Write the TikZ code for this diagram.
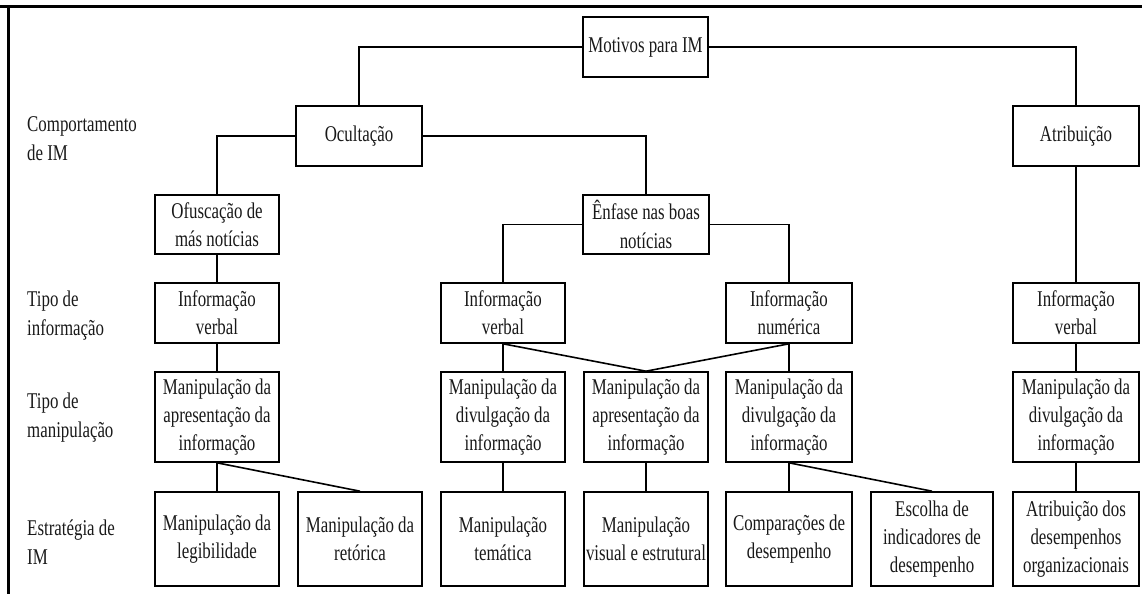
\documentclass[tikz,border=0pt]{standalone}
\usepackage{fontspec}
\setmainfont{Liberation Serif}[FakeStretch=0.75]
\begin{document}
\begin{tikzpicture}[x=1pt,y=-1pt,
  bx/.style={draw=black, line width=1.6pt, inner sep=0pt, align=center,
    font=\fontsize{22.5}{28.3}\selectfont, text=black!90},
  r1/.style={bx, minimum height=60pt},
  r2/.style={bx, minimum height=59pt},
  r3/.style={bx, minimum height=90pt},
  r4/.style={bx, minimum height=94pt},
  lbl/.style={anchor=west, align=left, inner sep=0pt,
    font=\fontsize{22.5}{29}\selectfont, text=black!90},
  ln/.style={draw=black, line width=1.6pt}]
\useasboundingbox (0,0) rectangle (1142,594);
\draw[line width=2.6pt] (0,6.5) -- (1142,6.5);
\draw[line width=2.4pt] (8.5,6.5) -- (8.5,594);
% level nodes
\node[r1, minimum width=125pt] (mot) at (645.5,47) {Motivos para IM};
\node[r1, minimum width=126pt] (ocu) at (359,136) {Ocultação};
\node[r1, minimum width=126pt] (atr) at (1076,136) {Atribuição};
\node[r2, minimum width=124pt] (ofu) at (217,224.5) {Ofuscação de\\más notícias};
\node[r2, minimum width=126pt] (enf) at (646,224.5) {Ênfase nas boas\\notícias};
\node[r1, minimum width=124pt] (ivl) at (217,313) {Informação\\verbal};
\node[r1, minimum width=124pt] (ivm) at (503,313) {Informação\\verbal};
\node[r1, minimum width=126pt] (inm) at (789,313) {Informação\\numérica};
\node[r1, minimum width=126pt] (ivr) at (1076,313) {Informação\\verbal};
\node[r3, minimum width=124pt] (mal) at (217,417) {Manipulação da\\apresentação da\\informação};
\node[r3, minimum width=124pt] (mdm) at (503,417) {Manipulação da\\divulgação da\\informação};
\node[r3, minimum width=124pt] (mam) at (646,417) {Manipulação da\\apresentação da\\informação};
\node[r3, minimum width=126pt] (mdr) at (789,417) {Manipulação da\\divulgação da\\informação};
\node[r3, minimum width=126pt] (mdx) at (1076,417) {Manipulação da\\divulgação da\\informação};
\node[r4, minimum width=124pt] (leg) at (217,539) {Manipulação da\\legibilidade};
\node[r4, minimum width=124pt] (ret) at (360,539) {Manipulação da\\retórica};
\node[r4, minimum width=124pt] (tem) at (503,539) {Manipulação\\temática};
\node[r4, minimum width=124pt] (vis) at (646,539) {Manipulação\\visual e estrutural};
\node[r4, minimum width=126pt] (cmp) at (789,539) {Comparações de\\desempenho};
\node[r4, minimum width=122pt] (esc) at (932,539) {Escolha de\\indicadores de\\desempenho};
\node[r4, minimum width=126pt] (atd) at (1076,539) {Atribuição dos\\desempenhos\\organizacionais};
% row labels
\node[lbl] (l1) at (27,139) {Comportamento\\de IM};
\node[lbl] (l2) at (27,316) {Tipo de\\informação};
\node[lbl] (l3) at (27,418) {Tipo de\\manipulação};
\node[lbl] (l4) at (27,542) {Estratégia de\\IM};
% connectors
\draw[ln] (mot.west) -| (ocu.north);
\draw[ln] (mot.east) -| (atr.north);
\draw[ln] (ocu.west) -| (ofu.north);
\draw[ln] (ocu.east) -| (enf.north);
\draw[ln] (ofu) -- (ivl);
\draw[ln] (ivl) -- (mal);
\draw[ln] (mal) -- (leg);
\draw[ln] (mal.south) -- (ret.north);
\draw[ln] (enf.west) -| (ivm.north);
\draw[ln] (enf.east) -| (inm.north);
\draw[ln] (ivm) -- (mdm);
\draw[ln] (inm) -- (mdr);
\draw[ln] (ivm.south) -- (mam.north);
\draw[ln] (inm.south) -- (mam.north);
\draw[ln] (mdm) -- (tem);
\draw[ln] (mam) -- (vis);
\draw[ln] (mdr) -- (cmp);
\draw[ln] (mdr.south) -- (esc.north);
\draw[ln] (atr) -- (ivr);
\draw[ln] (ivr) -- (mdx);
\draw[ln] (mdx) -- (atd);
\end{tikzpicture}
\end{document}
